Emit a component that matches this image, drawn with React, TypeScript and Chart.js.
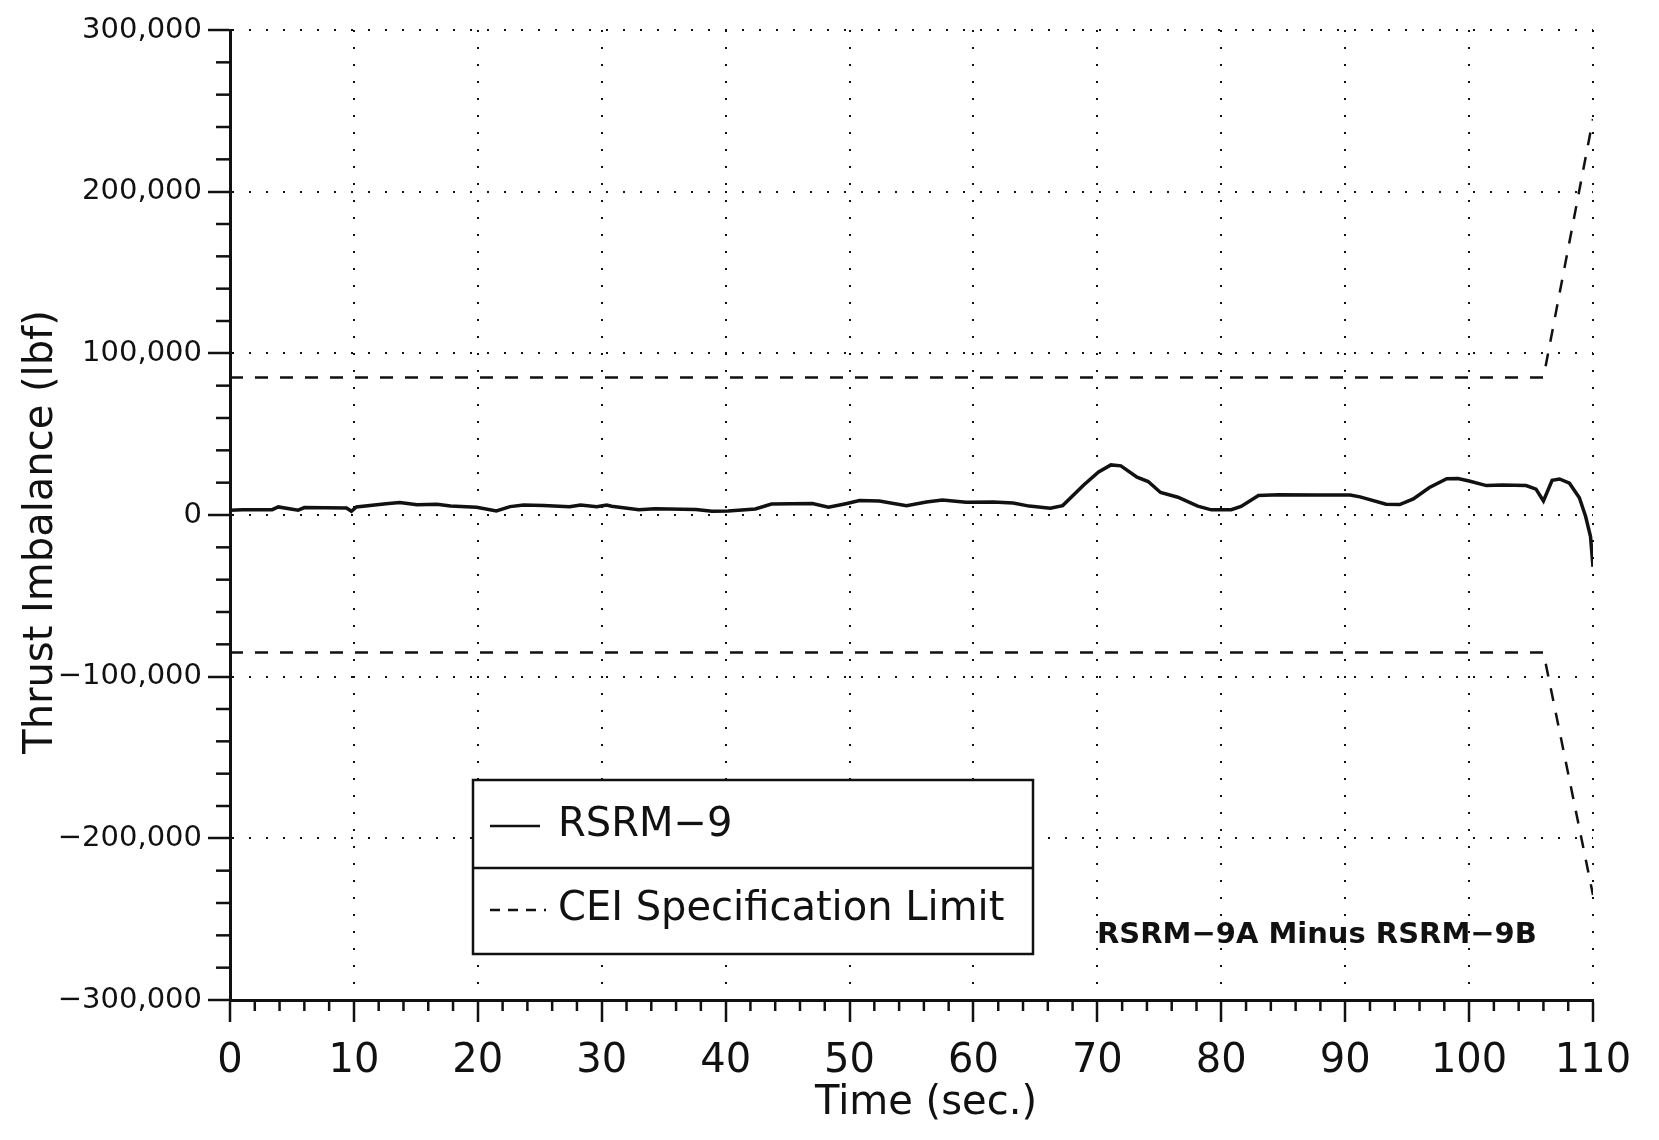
import React, { useEffect, useRef } from "react";
import { Chart, registerables } from "chart.js";

Chart.register(...registerables);

// ---- Data ----
const rsrmTime = [0, 1, 3.4, 3.9, 5.5, 6, 9.4, 9.8, 10.2, 12.6, 13.7, 15.1, 16.7, 17.8, 19.9, 21.5, 22.6, 23.7, 25.3, 27.4, 28.3, 29.6, 30.4, 30.8, 33, 34.3, 37.6, 38.9, 40.2, 42.4, 43.7, 47, 48.3, 49.7, 50.8, 52.4, 54.6, 56.2, 57.5, 59.4, 61.6, 63.2, 64.5, 66.2, 67.2, 68.9, 70.1, 71.1, 71.9, 73.2, 74.1, 75.1, 76.5, 78.1, 79.2, 80.8, 81.6, 83, 84.6, 87.8, 90.4, 91.2, 93.3, 94.4, 95.5, 96.8, 98.2, 99.1, 100, 101.4, 102.7, 104.6, 105.4, 106, 106.7, 107.3, 108.1, 108.9, 109.4, 109.8, 110];
const rsrmImbalance = [3000, 3200, 3300, 5000, 3000, 4600, 4300, 2300, 5000, 7000, 7700, 6400, 6700, 5600, 4800, 2500, 5200, 6200, 5900, 5100, 6200, 5100, 6200, 5400, 3300, 3900, 3400, 2300, 2500, 3700, 6800, 7100, 4800, 7000, 8900, 8700, 5800, 8000, 9200, 7900, 8100, 7400, 5500, 4200, 5800, 18600, 26600, 31000, 30400, 23400, 20700, 13900, 11000, 5500, 3200, 3300, 5300, 12000, 12600, 12400, 12400, 11200, 6700, 6500, 10000, 17000, 22400, 22600, 21000, 18200, 18600, 18200, 16000, 8700, 21400, 22300, 19700, 10700, -800, -13300, -32000];

const specTime = [0, 106, 110];
const specUpper = [85000, 85000, 245000];
const specLower = [-85000, -85000, -235000];

const xTickValues = [0, 10, 20, 30, 40, 50, 60, 70, 80, 90, 100, 110];
const yTickValues = [-300000, -200000, -100000, 0, 100000, 200000, 300000];

const seriesNames = ["RSRM\u22129", "CEI Specification Limit"];
const noteText = "RSRM\u22129A Minus RSRM\u22129B";
const xTitle = "Time (sec.)";
const yTitle = "Thrust Imbalance (lbf)";

const INK = "#111111";
const FONT = "'DejaVu Sans', sans-serif";

const fmtY = (v: number) => {
  const s = Math.abs(v).toLocaleString("en-US");
  return v < 0 ? "\u2212" + s : s;
};

const overlayPlugin = {
  id: "overlay",
  afterDraw(chart: any) {
    const ctx = chart.ctx as CanvasRenderingContext2D;
    const xs = chart.scales.x;
    const ys = chart.scales.y;
    const area = chart.chartArea;
    ctx.save();
    ctx.strokeStyle = INK;
    ctx.lineWidth = 2.5;
    ctx.setLineDash([]);
    // minor ticks on x
    for (let t = xs.min; t <= xs.max; t += 2) {
      if (t % 10 === 0) continue;
      const px = xs.getPixelForValue(t);
      ctx.beginPath();
      ctx.moveTo(px, area.bottom);
      ctx.lineTo(px, area.bottom + 11);
      ctx.stroke();
    }
    // minor ticks on y
    for (let v = ys.min; v <= ys.max; v += 20000) {
      if (v % 100000 === 0) continue;
      const py = ys.getPixelForValue(v);
      ctx.beginPath();
      ctx.moveTo(area.left - 14, py);
      ctx.lineTo(area.left, py);
      ctx.stroke();
    }

    // axis titles
    ctx.fillStyle = INK;
    ctx.font = `40px ${FONT}`;
    ctx.textAlign = "center";
    ctx.textBaseline = "middle";
    ctx.fillText(xTitle, 926, 1104);
    ctx.save();
    ctx.translate(42, 532);
    ctx.rotate(-Math.PI / 2);
    ctx.fillText(yTitle, 0, 0);
    ctx.restore();

    // legend box
    const bx = 473, by = 780, bw = 560, bh = 174, divY = 868;
    ctx.fillStyle = "#ffffff";
    ctx.fillRect(bx, by, bw, bh);
    ctx.lineWidth = 2.5;
    ctx.strokeRect(bx, by, bw, bh);
    ctx.beginPath();
    ctx.moveTo(bx, divY);
    ctx.lineTo(bx + bw, divY);
    ctx.stroke();

    const r1 = 826, r2 = 910;
    ctx.lineWidth = 2.5;
    ctx.beginPath();
    ctx.moveTo(490, r1);
    ctx.lineTo(540, r1);
    ctx.stroke();
    ctx.setLineDash([10, 8]);
    ctx.beginPath();
    ctx.moveTo(490, r2);
    ctx.lineTo(546, r2);
    ctx.stroke();
    ctx.setLineDash([]);

    ctx.fillStyle = INK;
    ctx.font = `40px ${FONT}`;
    ctx.textBaseline = "middle";
    ctx.textAlign = "left";
    ctx.fillText(seriesNames[0], 558, r1);
    ctx.fillText(seriesNames[1], 558, r2);

    ctx.font = `bold 29px ${FONT}`;
    ctx.fillText(noteText, 1097, 935);
    ctx.restore();
  },
};

export default function App() {
  const ref = useRef<HTMLCanvasElement | null>(null);

  useEffect(() => {
    if (!ref.current) return;
    Chart.defaults.font.family = FONT;
    Chart.defaults.color = INK;

    const chart = new Chart(ref.current, {
      type: "line",
      data: {
        datasets: [
          {
            label: seriesNames[0],
            data: rsrmTime.map((t, i) => ({ x: t, y: rsrmImbalance[i] })),
            borderColor: INK,
            borderWidth: 3.5,
            pointRadius: 0,
            tension: 0,
            fill: false,
          },
          {
            label: seriesNames[1],
            data: specTime.map((t, i) => ({ x: t, y: specUpper[i] })),
            borderColor: INK,
            borderWidth: 2.5,
            borderDash: [13, 12],
            pointRadius: 0,
            tension: 0,
            fill: false,
          },
          {
            label: seriesNames[1] + " (lower)",
            data: specTime.map((t, i) => ({ x: t, y: specLower[i] })),
            borderColor: INK,
            borderWidth: 2.5,
            borderDash: [13, 12],
            pointRadius: 0,
            tension: 0,
            fill: false,
          },
        ],
      },
      options: {
        responsive: false,
        animation: false,
        devicePixelRatio: 1,
        layout: { padding: { top: 30, right: 66, left: 0, bottom: 0 } },
        plugins: {
          legend: { display: false },
          tooltip: { enabled: false },
          title: { display: false },
        },
        scales: {
          x: {
            type: "linear",
            min: 0,
            max: 110,
            afterFit: (s: any) => {
              s.height = 140;
            },
            afterBuildTicks: (s: any) => {
              s.ticks = xTickValues.map((v) => ({ value: v }));
            },
            ticks: {
              font: { size: 40, family: FONT },
              color: INK,
              padding: 16,
              maxRotation: 0,
              autoSkip: false,
            },
            grid: {
              display: true,
              drawOnChartArea: true,
              drawTicks: true,
              tickLength: 22,
              tickWidth: 2.5,
              tickColor: INK,
              color: INK,
              lineWidth: 2,
              tickBorderDash: [],
            },
            border: { display: true, color: INK, width: 3, dash: [2, 15] },
            title: { display: false },
          },
          y: {
            type: "linear",
            min: -300000,
            max: 300000,
            afterFit: (s: any) => {
              s.width = 230;
            },
            afterBuildTicks: (s: any) => {
              s.ticks = yTickValues.map((v) => ({ value: v }));
            },
            ticks: {
              font: { size: 29, family: FONT },
              color: INK,
              padding: 6,
              callback: (v: any) => fmtY(Number(v)),
            },
            grid: {
              display: true,
              drawOnChartArea: true,
              drawTicks: true,
              tickLength: 22,
              tickWidth: 2.5,
              tickColor: INK,
              color: INK,
              lineWidth: 2,
              tickBorderDash: [],
            },
            border: { display: true, color: INK, width: 3, dash: [2, 15] },
            title: { display: false },
          },
        },
      },
      plugins: [overlayPlugin],
    } as any);

    return () => chart.destroy();
  }, []);

  return (
    <div
      style={{
        position: "absolute",
        left: 0,
        top: 0,
        width: 1659,
        height: 1140,
        background: "#ffffff",
      }}
    >
      <canvas ref={ref} width={1659} height={1140} style={{ display: "block" }} />
    </div>
  );
}
